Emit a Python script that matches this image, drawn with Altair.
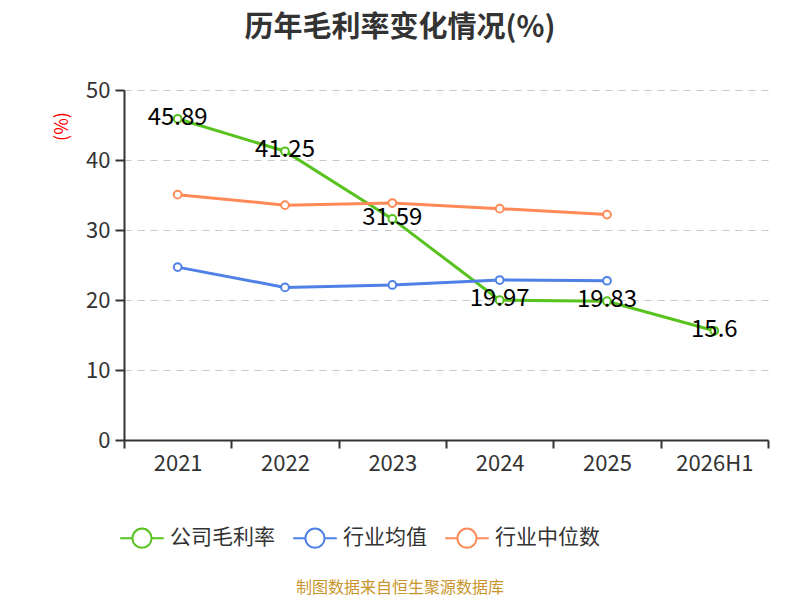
import altair as alt
import pandas as pd

years = ["2021", "2022", "2023", "2024", "2025", "2026H1"]
company = [45.89, 41.25, 31.59, 19.97, 19.83, 15.6]
ind_avg = [24.7, 21.8, 22.15, 22.85, 22.75]
ind_med = [35.05, 33.55, 33.85, 33.05, 32.2]

series_names = ["公司毛利率", "行业均值", "行业中位数"]
colors = ["#58c21e", "#4e80e6", "#ff8a57"]

rows = []
for y, v in zip(years, company):
    rows.append({"year": y, "value": v, "series": series_names[0]})
for y, v in zip(years, ind_avg):
    rows.append({"year": y, "value": v, "series": series_names[1]})
for y, v in zip(years, ind_med):
    rows.append({"year": y, "value": v, "series": series_names[2]})
df = pd.DataFrame(rows)
labels_df = pd.DataFrame({"year": years, "value": company})

FONT = "Noto Sans CJK SC"
sym = "M-1,0H-0.44M0.44,0H1M-0.44,0A0.44,0.44 0 1,0 0.44,0A0.44,0.44 0 1,0 -0.44,0Z"

x_enc = alt.X("year:N", sort=years, scale=alt.Scale(domain=years, paddingInner=0, paddingOuter=0),
              axis=alt.Axis(title=None, labelAngle=0, tickBand="extent", labelFontSize=22,
                            labelColor="#333333", labelFont=FONT, domainColor="#333333",
                            domainWidth=2, tickColor="#333333", tickWidth=2, tickSize=8,
                            labelPadding=5, grid=False))
y_enc = alt.Y("value:Q", scale=alt.Scale(domain=[0, 50], nice=False),
              axis=alt.Axis(title="(%)", titleColor="red", titleFontSize=18, titleFont=FONT,
                            titleFontWeight="normal", titleX=-62, titleY=36, titleAngle=-90,
                            titleAlign="center", titleBaseline="middle",
                            values=[0, 10, 20, 30, 40, 50], labelFontSize=22, labelColor="#333333",
                            labelFont=FONT, domainColor="#333333", domainWidth=2,
                            tickColor="#333333", tickWidth=2, tickSize=9, labelPadding=5,
                            gridDash=[7, 6], gridColor="#c8c8c8", gridWidth=1.2))

color_enc = alt.Color("series:N", sort=series_names,
                      scale=alt.Scale(domain=series_names, range=colors),
                      legend=alt.Legend(title=None, orient="none", direction="horizontal",
                                        legendX=-5, legendY=425, symbolType=sym, symbolSize=1900,
                                        symbolStrokeWidth=2, symbolFillColor="white",
                                        labelFontSize=21, labelColor="#333333", labelFont=FONT,
                                        columnPadding=14, labelOffset=5, symbolOffset=0))

lines = alt.Chart(df).mark_line(strokeWidth=3).encode(x=x_enc, y=y_enc, color=color_enc)
points = alt.Chart(df).mark_point(filled=True, fill="white", size=60, strokeWidth=2, opacity=1).encode(
    x=alt.X("year:N", sort=years), y="value:Q",
    stroke=alt.Stroke("series:N", sort=series_names,
                      scale=alt.Scale(domain=series_names, range=colors), legend=None))
texts = alt.Chart(labels_df).mark_text(fontSize=24, font=FONT, color="black", baseline="middle",
                                       align="center", dy=-1).encode(
    x=alt.X("year:N", sort=years), y="value:Q", text=alt.Text("value:Q"))
footer = alt.Chart(pd.DataFrame({"t": ["制图数据来自恒生聚源数据库"]})).mark_text(
    fontSize=16, font=FONT, color="#c9952b", align="center", baseline="middle").encode(
    x=alt.value(276), y=alt.value(498), text="t:N")

chart = alt.layer(lines, points, texts, footer).properties(
    width=644, height=350,
    padding={"left": 116, "top": 82, "right": 16, "bottom": 157},
    autosize=alt.AutoSizeParams(type="none"),
    title=alt.TitleParams("历年毛利率变化情况(%)", fontSize=29, font=FONT, fontWeight="bold",
                          color="#333333", anchor="middle", dx=-46, offset=36),
).configure_view(stroke=None)

chart.save("out.html", embed_options={"renderer": "svg", "actions": False})
